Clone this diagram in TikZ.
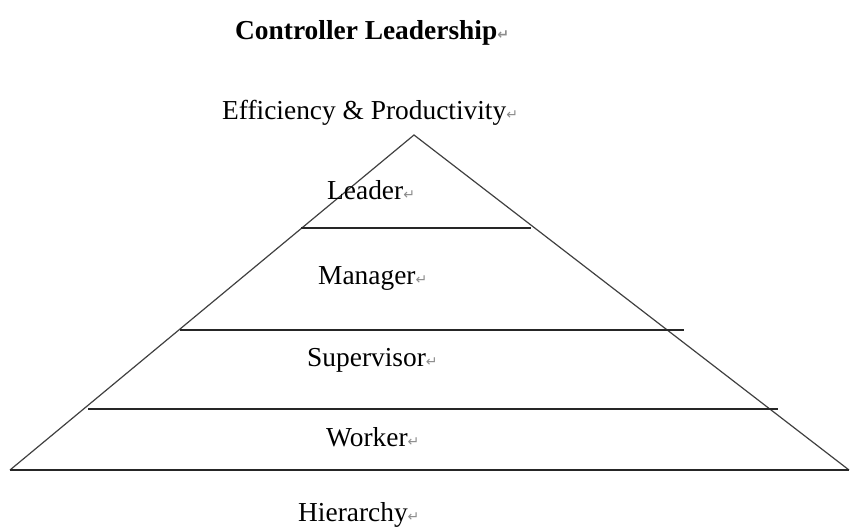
\documentclass[tikz,border=0pt]{standalone}
\usepackage{fontspec}
\setmainfont{Liberation Serif}
\newfontfamily\dejavu{DejaVu Sans}
\newcommand{\pmark}{{\color{black!45}\fontsize{14}{14}\selectfont\dejavu ↵}}
\begin{document}
\begin{tikzpicture}[x=1pt,y=-1pt,
  lbl/.style={anchor=base west,inner sep=0pt,font=\fontsize{27.4}{32}\selectfont},
  edge/.style={draw=black!75,line width=1.2pt},
  tier/.style={draw=black!85,line width=1.8pt}]
\useasboundingbox (0,0) rectangle (850,529);
% pyramid corners
\coordinate (apex) at (414,135);
\coordinate (bl) at (10,470);
\coordinate (br) at (849,470);
% tier line ends
\coordinate (l1a) at (301,228); \coordinate (l1b) at (531,228);
\coordinate (l2a) at (180,330); \coordinate (l2b) at (684,330);
\coordinate (l3a) at (88,409);  \coordinate (l3b) at (778,409);
\draw[edge] (bl) -- (apex) -- (br);
\draw[tier] (bl) -- (br);
\draw[tier] (l1a) -- (l1b);
\draw[tier] (l2a) -- (l2b);
\draw[tier] (l3a) -- (l3b);
% texts
\node[lbl,font=\fontsize{27.4}{32}\selectfont\bfseries] (title) at (235,40) {Controller Leadership\pmark};
\node[lbl] (eff) at (222,120) {Efficiency \& Productivity\pmark};
\node[lbl] (leader) at (327,200) {Leader\pmark};
\node[lbl] (manager) at (318,284) {Manager\pmark};
\node[lbl] (supervisor) at (307,366) {Supervisor\pmark};
\node[lbl] (worker) at (326,446) {Worker\pmark};
\node[lbl] (hier) at (298,521) {Hierarchy\pmark};
\end{tikzpicture}
\end{document}
